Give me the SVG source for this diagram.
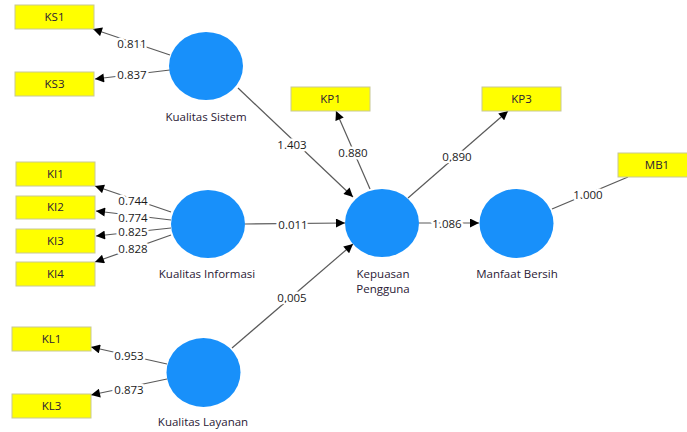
<svg xmlns="http://www.w3.org/2000/svg" width="687" height="432" viewBox="0 0 687 432">
<defs>
<marker id="ah" viewBox="0 0 10 10" refX="10" refY="5" markerWidth="10" markerHeight="9" markerUnits="userSpaceOnUse" orient="auto">
<path d="M0,0 L10,5 L0,10 z" fill="#000"/>
</marker>
<style>
.lv{fill:#1890fa}
.ind{fill:#ffff00;stroke:#c8c896;stroke-width:1}
.t{font-family:"Open Sans","DejaVu Sans",sans-serif;font-size:11.5px;fill:#2a2035;text-anchor:middle}
.n{font-family:"Open Sans","DejaVu Sans",sans-serif;font-size:11.5px;fill:#1a1a1a;text-anchor:middle;dominant-baseline:central;stroke:#fff;stroke-width:5;paint-order:stroke;stroke-linejoin:round}
.c{stroke:#5a5a5a;stroke-width:1.2;fill:none}
.a{marker-end:url(#ah)}
</style>
</defs>
<rect width="687" height="432" fill="#fff"/>
<g id="connectors">
<line class="c a" x1="170" y1="55" x2="93" y2="29"/>
<line class="c a" x1="170" y1="70" x2="95" y2="79"/>
<line class="c a" x1="171" y1="212" x2="95" y2="186"/>
<line class="c a" x1="171" y1="220" x2="96" y2="211"/>
<line class="c a" x1="171" y1="228" x2="96" y2="236"/>
<line class="c a" x1="171" y1="235" x2="95" y2="262"/>
<line class="c a" x1="167" y1="364" x2="91" y2="347"/>
<line class="c a" x1="167" y1="379" x2="91" y2="395"/>
<line class="c a" x1="238" y1="88" x2="353" y2="197"/>
<line class="c a" x1="245" y1="224" x2="345" y2="223"/>
<line class="c a" x1="232" y1="348" x2="353" y2="244"/>
<line class="c a" x1="370" y1="189" x2="336" y2="111"/>
<line class="c a" x1="408" y1="198" x2="508" y2="111"/>
<line class="c a" x1="419" y1="223" x2="479" y2="223"/>
<line class="c" x1="552" y1="209" x2="628" y2="177"/>
<text class="n" x="132" y="43">0.811</text>
<text class="n" x="132" y="74">0.837</text>
<text class="n" x="133" y="200">0.744</text>
<text class="n" x="133" y="217">0.774</text>
<text class="n" x="133" y="231">0.825</text>
<text class="n" x="133" y="248">0.828</text>
<text class="n" x="129" y="355">0.953</text>
<text class="n" x="129" y="389">0.873</text>
<text class="n" x="292" y="144">1.403</text>
<text class="n" x="293" y="224">0.011</text>
<text class="n" x="292" y="297">0.005</text>
<text class="n" x="353" y="152">0.880</text>
<text class="n" x="457" y="156">0.890</text>
<text class="n" x="447" y="223">1.086</text>
<text class="n" x="588" y="194">1.000</text>
</g>
<g id="KS1"><rect class="ind" x="15" y="5" width="79" height="24"/><text class="t" x="54.5" y="21">KS1</text></g>
<g id="KS3"><rect class="ind" x="15" y="72" width="79" height="24"/><text class="t" x="54.5" y="88">KS3</text></g>
<g id="KI1"><rect class="ind" x="16" y="162" width="79" height="24"/><text class="t" x="55.5" y="178">KI1</text></g>
<g id="KI2"><rect class="ind" x="16" y="196" width="79" height="23"/><text class="t" x="55.5" y="211">KI2</text></g>
<g id="KI3"><rect class="ind" x="16" y="229" width="79" height="24"/><text class="t" x="55.5" y="245">KI3</text></g>
<g id="KI4"><rect class="ind" x="16" y="262" width="79" height="24"/><text class="t" x="55.5" y="278">KI4</text></g>
<g id="KL1"><rect class="ind" x="12" y="327" width="79" height="24"/><text class="t" x="51.5" y="343">KL1</text></g>
<g id="KL3"><rect class="ind" x="12" y="394" width="79" height="24"/><text class="t" x="51.5" y="410">KL3</text></g>
<g id="KP1"><rect class="ind" x="291" y="87" width="79" height="24"/><text class="t" x="330.5" y="103">KP1</text></g>
<g id="KP3"><rect class="ind" x="482" y="87" width="79" height="24"/><text class="t" x="521.5" y="103">KP3</text></g>
<g id="MB1"><rect class="ind" x="618" y="153" width="79" height="24"/><text class="t" x="657" y="169">MB1</text></g>
<g id="KualitasSistem"><ellipse class="lv" cx="206" cy="66" rx="37" ry="34"/><text class="t" x="206" y="121">Kualitas Sistem</text></g>
<g id="KualitasInformasi"><ellipse class="lv" cx="208" cy="224" rx="37" ry="34"/><text class="t" x="207" y="278">Kualitas Informasi</text></g>
<g id="KualitasLayanan"><ellipse class="lv" cx="203.5" cy="372.5" rx="37" ry="34.5"/><text class="t" x="203" y="426">Kualitas Layanan</text></g>
<g id="KepuasanPengguna"><ellipse class="lv" cx="382" cy="223" rx="37" ry="34"/><text class="t" x="383" y="278">Kepuasan</text><text class="t" x="383" y="293">Pengguna</text></g>
<g id="ManfaatBersih"><ellipse class="lv" cx="516.5" cy="223.5" rx="37" ry="34.5"/><text class="t" x="517" y="278">Manfaat Bersih</text></g>
</svg>
